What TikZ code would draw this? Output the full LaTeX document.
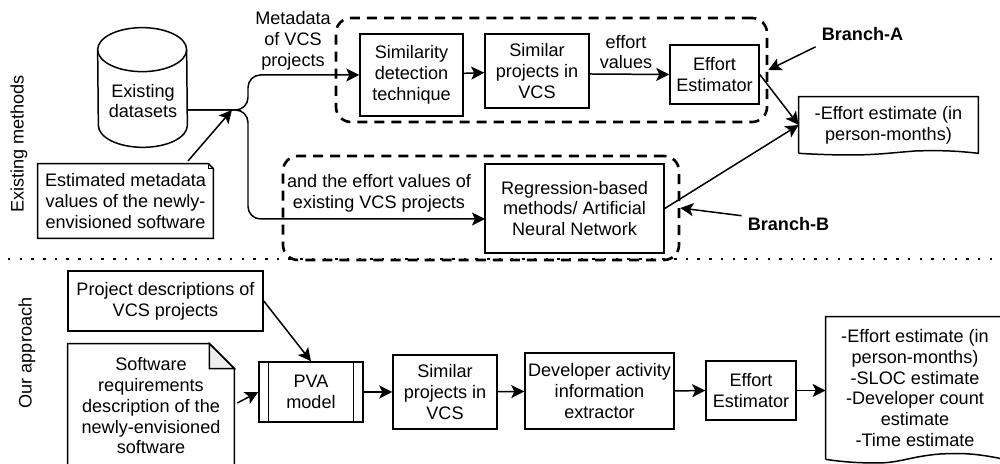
\documentclass[tikz,border=0pt]{standalone}
\usepackage{fontspec}
\setmainfont{Liberation Sans}
\usepackage{xcolor}
\definecolor{foldgray}{HTML}{EEEEEE}
\usetikzlibrary{calc,positioning,arrows.meta}

\begin{document}
\begin{tikzpicture}[
    every node/.style={font=\fontsize{10.3}{11.8}\selectfont, align=center},
    box/.style={draw, line width=0.85pt, minimum width=2.08cm, minimum height=1.48cm, inner sep=0pt},
    blank/.style={inner sep=0pt, minimum width=3.5cm, minimum height=1.48cm},
    groupbox/.style={draw, line width=1.5pt, rounded corners=0.3cm, dash pattern=on 5.7pt off 4pt, minimum height=2.08cm},
    arrow/.style={-{Stealth[length=0.26cm, width=0.26cm, inset=0.06cm]}, line width=0.85pt},
    tagtext/.style={font=\fontsize{10.3}{11.8}\selectfont\bfseries},
    outline/.style={line width=0.85pt}
]
  \clip (0, 0) rectangle (20, 9.28);

  % Branch frames
  \node[groupbox, minimum width=8.62cm] (brancha) at (11.03, 7.88) {};
  \node[groupbox, minimum width=7.92cm] (branchb) at (9.62, 5.12) {};

  % Existing methods
  \node[rotate=90] (existing) at (0.38, 6.4) {Existing methods};
  \node[blank, minimum width=1.78cm, minimum height=2.38cm] (datasets) at (2.85, 7.53) {};
  \draw[outline] ([yshift=-0.44cm]datasets.north west) arc[start angle=180, end angle=0, x radius=0.89, y radius=0.44]
    -- ([yshift=0.44cm]datasets.south east) arc[start angle=0, end angle=-180, x radius=0.89, y radius=0.44] -- cycle;
  \draw[outline] ([yshift=-0.44cm]datasets.north west) arc[start angle=180, end angle=360, x radius=0.89, y radius=0.44];
  \node (datatext) at (2.86, 7.26) {Existing\\datasets};
  \node[blank] (metanote) at (2.51, 5.26) {Estimated metadata\\values of the newly-\\envisioned software};
  \draw[outline] (metanote.south west) -- (metanote.north west)
    -- ([xshift=-0.1cm]metanote.north east) -- ([yshift=-0.1cm]metanote.north east)
    -- (metanote.south east) -- cycle;
  \draw[outline] ([xshift=-0.1cm]metanote.north east) -- ([shift={(-0.1cm,-0.1cm)}]metanote.north east)
    -- ([yshift=-0.1cm]metanote.north east);

  \node[box, minimum width=2.06cm, minimum height=1.64cm] (simtech) at (8.23, 7.78) {Similarity\\detection\\technique};
  \node[box] (simvcs) at (10.74, 7.86) {Similar\\projects in\\VCS};
  \node[box, minimum width=1.78cm, minimum height=1.18cm] (effort) at (14.29, 7.79) {Effort\\Estimator};
  \node[box, minimum width=3.58cm, minimum height=1.78cm] (regress) at (11.49, 5.11) {Regression-based\\methods/ Artificial\\Neural Network};
  \node[blank, minimum width=3.58cm, minimum height=1.12cm] (result) at (17.77, 6.78) {-Effort estimate (in\\person-months)};
  \draw[outline] (result.south west) -- (result.north west) -- (result.north east) -- (result.south east)
    .. controls (19, 6.28) and (18.6, 6.27) .. (18.3, 6.26)
    .. controls (17.8, 6.22) and (17.5, 6.18) .. (17, 6.18)
    .. controls (16.6, 6.18) and (16.2, 6.2) .. (result.south west);

  \node (metalabel) at (5.86, 8.46) {Metadata\\of VCS\\projects};
  \node (efflabel) at (12.52, 8.24) {effort\\values};
  \node (andlabel) at (7.58, 5.42) {and the effort values of\\existing VCS projects};
  \node[tagtext] (taga) at (17.25, 8.6) {Branch-A};
  \node[tagtext] (tagb) at (15.77, 4.8) {Branch-B};

  % Connectors
  \coordinate (fork) at (4.96, 7.08);
  \coordinate (regin) at (9.7, 4.9);
  \draw[arrow, rounded corners=0.25cm] (datasets.east |- fork) -- (fork) -- (fork |- simtech.west) -- (simtech.west);
  \draw[arrow, rounded corners=0.25cm] (datasets.east |- fork) -- (fork) -- (fork |- regin) -- (regin);
  \draw[arrow] (3.76, 6.06) -- (4.64, 7.08);
  \draw[arrow] (simtech) -- (simvcs);
  \draw[arrow] (simvcs.east) ++(0, -0.06) -- (effort.west);
  \draw[arrow] (effort.east) -- (result.west);
  \draw[arrow] (regress.east) -- (result.west);
  \draw[arrow] (taga.south west) -- (brancha.east);
  \draw[arrow] (tagb.170) -- (branchb.east);

  % Divider
  \draw[line width=1.6pt, dash pattern=on 1.4pt off 5.25pt] (0.16, 4.1) -- (20, 4.1);

  % Our approach
  \node[rotate=90] (ours) at (0.54, 2.22) {Our approach};
  \node[box, minimum width=3.9cm, minimum height=1.2cm] (projdesc) at (3.31, 3.26) {Project descriptions of\\VCS projects};
  \node[blank, minimum width=3.32cm, minimum height=2.48cm] (softdoc) at (3.02, 1.16) {Software\\requirements\\description of the\\newly-envisioned\\software};
  \draw[outline] (softdoc.south west) -- (softdoc.north west)
    -- ([xshift=-0.5cm]softdoc.north east) -- ([yshift=-0.5cm]softdoc.north east)
    -- (softdoc.south east) -- cycle;
  \draw[outline, fill=foldgray] ([xshift=-0.5cm]softdoc.north east) -- ([shift={(-0.5cm,-0.5cm)}]softdoc.north east)
    -- ([yshift=-0.5cm]softdoc.north east) -- cycle;
  \node[box, minimum height=1.2cm] (pva) at (6.22, 1.44) {PVA\\model};
  \draw[outline] ([xshift=0.2cm]pva.north west) -- ([xshift=0.2cm]pva.south west);
  \draw[outline] ([xshift=-0.2cm]pva.north east) -- ([xshift=-0.2cm]pva.south east);
  \node[box] (simvcstwo) at (8.9, 1.44) {Similar\\projects in\\VCS};
  \node[box, minimum width=2.98cm, minimum height=1.52cm] (devinfo) at (11.99, 1.46) {Developer activity\\information\\extractor};
  \node[box, minimum width=1.8cm, minimum height=1.18cm] (efforttwo) at (15.02, 1.47) {Effort\\Estimator};
  \node[blank, minimum width=3.56cm, minimum height=2.84cm] (resulttwo) at (18.3, 1.52) {-Effort estimate (in\\person-months)\\-SLOC estimate\\-Developer count\\estimate\\-Time estimate};
  \draw[outline] (resulttwo.south west) -- (resulttwo.north west) -- (resulttwo.north east) -- (resulttwo.south east)
    .. controls (19.5, 0.22) and (19.2, 0.22) .. (18.8, 0.2)
    .. controls (18.2, 0.15) and (18, 0.02) .. (17.54, 0.02)
    .. controls (17.1, 0.02) and (16.8, 0.05) .. (resulttwo.south west);

  \draw[arrow] (projdesc.east) -- (pva.north);
  \draw[arrow] (softdoc.east |- 0, 1.22) ++(0.06, 0) -- (pva.west);
  \draw[arrow] (pva) -- (simvcstwo);
  \draw[arrow] (simvcstwo) -- (devinfo);
  \draw[arrow] (devinfo.east) -- (efforttwo.west);
  \draw[arrow] (efforttwo.east) -- (resulttwo.west |- efforttwo.east);
\end{tikzpicture}
\end{document}
